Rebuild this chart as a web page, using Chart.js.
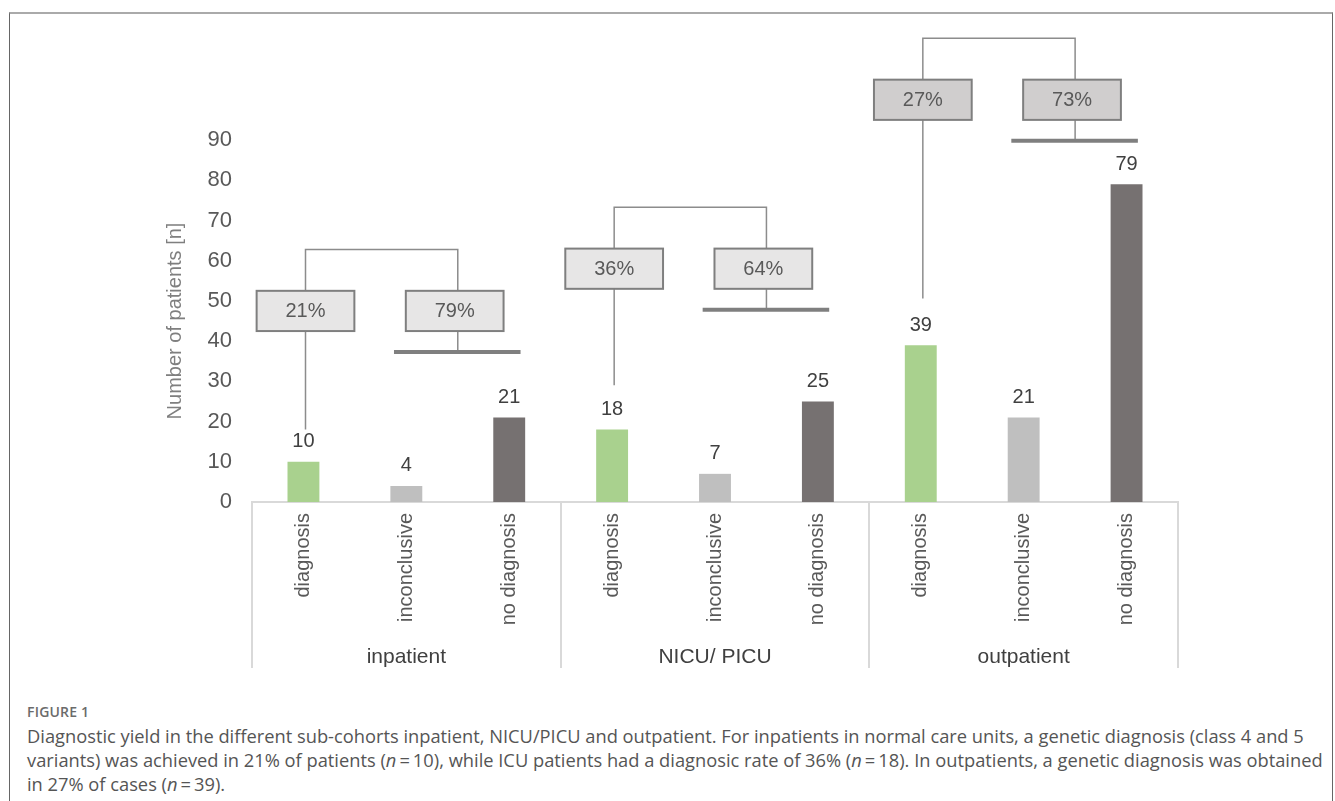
<!DOCTYPE html>
<html>
<head>
<meta charset="utf-8">
<title>Diagnostic yield by sub-cohort</title>
<script src="https://cdn.jsdelivr.net/npm/chart.js@4.4.1/dist/chart.umd.min.js"></script>
<style>
  html, body { margin: 0; padding: 0; background: #fff; }
  body { width: 1335px; height: 801px; position: relative; overflow: hidden; }
  #frame { position: absolute; left: 9px; top: 12px; width: 1322px; height: 800px;
           border-left: 1px solid #666; border-right: 1px solid #666; border-top: 2px solid #aaa; }
  #wrap { position: absolute; left: 0; top: 0; width: 1335px; height: 700px; }
  #caption { position: absolute; left: 27px; top: 700px; width: 1300px; font-family: "Open Sans", sans-serif;
             color: #555; white-space: nowrap; }
  #caption .fig { font-size: 14px; font-weight: 600; color: #6b6b6b; line-height: 24px; letter-spacing: 0.2px; }
  #caption .txt { font-size: 18.3px; line-height: 24px; }
</style>
</head>
<body>
<div id="frame"></div>
<div id="wrap"><canvas id="chart" width="1335" height="700"></canvas></div>
<div id="caption">
  <div class="fig">FIGURE 1</div>
  <div class="txt">Diagnostic yield in the different sub-cohorts inpatient, NICU/PICU and outpatient. For inpatients in normal care units, a genetic diagnosis (class 4 and 5<br>variants) was achieved in 21% of patients (<i>n</i>&#8201;=&#8201;10), while ICU patients had a diagnosic rate of 36% (<i>n</i>&#8201;=&#8201;18). In outpatients, a genetic diagnosis was obtained<br>in 27% of cases (<i>n</i>&#8201;=&#8201;39).</div>
</div>
<script>
// Sub-cohorts and test outcomes
const groups = ['inpatient', 'NICU/ PICU', 'outpatient'];
const outcomes = ['diagnosis', 'inconclusive', 'no diagnosis'];

// Number of patients per outcome, one entry per sub-cohort
const diagnosisCounts = [10, 18, 39];
const inconclusiveCounts = [4, 7, 21];
const noDiagnosisCounts = [21, 25, 79];

// Share of patients with / without a genetic diagnosis (%)
const diagnosedShare = [21, 36, 27];
const undiagnosedShare = [79, 64, 73];

// Y axis ticks
const yTicks = [0, 10, 20, 30, 40, 50, 60, 70, 80, 90];

// Styling
const outcomeColors = ['#a9d18e', '#bfbfbf', '#767171'];
const boxFills = ['#e7e6e6', '#e7e6e6', '#d0cece'];
// Height (in axis units) of the percentage boxes and of the left drop line per cohort
const boxCentres = [47.5, 58, 100];
const dropEnds = [18, 29, 50.6];

const labels = [], values = [], colors = [];
groups.forEach((g, i) => {
  const counts = [diagnosisCounts[i], inconclusiveCounts[i], noDiagnosisCounts[i]];
  counts.forEach((v, j) => {
    labels.push(outcomes[j]);
    values.push(v);
    colors.push(outcomeColors[j]);
  });
});

const FONT = '"Liberation Sans", Arial, sans-serif';
Chart.defaults.font.family = FONT;

const annotate = {
  id: 'annotate',
  afterDatasetsDraw(chart) {
    const { ctx, chartArea: ca, scales: { x, y } } = chart;
    const meta = chart.getDatasetMeta(0);
    const step = x.getPixelForValue(1) - x.getPixelForValue(0);
    const xAt = (g, pos) => x.getPixelForValue(g * 3) + pos * step;
    ctx.save();
    ctx.textAlign = 'center';
    ctx.textBaseline = 'middle';

    // value labels above bars
    ctx.font = '20px ' + FONT;
    ctx.fillStyle = '#404040';
    meta.data.forEach((bar, i) => ctx.fillText(String(values[i]), bar.x, bar.y - 20));

    // percentage brackets
    groups.forEach((g, i) => {
      const c = boxCentres[i];
      const top = y.getPixelForValue(c + 5);
      const bot = y.getPixelForValue(c - 5);
      const link = y.getPixelForValue(c + 15.3);
      const shelf = y.getPixelForValue(c - 10.2);
      const drop = y.getPixelForValue(dropEnds[i]);
      const xl = xAt(i, 0.02);
      const xr = xAt(i, 1.5);

      ctx.strokeStyle = '#8c8c8c';
      ctx.lineWidth = 1.5;
      ctx.beginPath();
      ctx.moveTo(xl, drop);
      ctx.lineTo(xl, link);
      ctx.lineTo(xr, link);
      ctx.lineTo(xr, shelf);
      ctx.stroke();

      ctx.strokeStyle = '#7f7f7f';
      ctx.lineWidth = 4;
      ctx.beginPath();
      ctx.moveTo(xr - 0.62 * step, shelf);
      ctx.lineTo(xr + 0.61 * step, shelf);
      ctx.stroke();

      const w = 0.95 * step;
      [[xl, diagnosedShare[i]], [xAt(i, 1.47), undiagnosedShare[i]]].forEach(([cx, pct]) => {
        ctx.fillStyle = boxFills[i];
        ctx.fillRect(cx - w / 2, top, w, bot - top);
        ctx.lineWidth = 2;
        ctx.strokeStyle = '#7f7f7f';
        ctx.strokeRect(cx - w / 2, top, w, bot - top);
        ctx.fillStyle = '#595959';
        ctx.font = '20px ' + FONT;
        ctx.fillText(pct + '%', cx, (top + bot) / 2 + 1);
      });
    });

    // group separators and cohort names
    ctx.strokeStyle = '#d9d9d9';
    ctx.lineWidth = 2;
    for (let g = 0; g <= groups.length; g++) {
      const sx = Math.round(xAt(g, -0.5));
      ctx.beginPath();
      ctx.moveTo(sx, ca.bottom);
      ctx.lineTo(sx, ca.bottom + 166);
      ctx.stroke();
    }
    ctx.font = '21px ' + FONT;
    ctx.fillStyle = '#404040';
    groups.forEach((g, i) => ctx.fillText(g, xAt(i, 1), ca.bottom + 155));
    ctx.restore();
  }
};

new Chart(document.getElementById('chart'), {
  type: 'bar',
  data: {
    labels: labels,
    datasets: [{
      data: values,
      backgroundColor: colors,
      borderWidth: 0,
      barPercentage: 0.31,
      categoryPercentage: 1.0
    }]
  },
  options: {
    responsive: false,
    animation: false,
    events: [],
    layout: { padding: { top: 140, right: 157, left: 0, bottom: 0 } },
    plugins: { legend: { display: false }, tooltip: { enabled: false } },
    scales: {
      x: {
        grid: { display: false, drawTicks: false },
        border: { display: true, color: '#d9d9d9', width: 2 },
        ticks: {
          autoSkip: false, minRotation: 90, maxRotation: 90, padding: 11,
          color: '#595959', font: { size: 20 }
        },
        afterFit(s) { s.height = 198; }
      },
      y: {
        min: 0, max: 90,
        grid: { display: false, drawTicks: false },
        border: { display: false },
        afterBuildTicks(s) { s.ticks = yTicks.map(v => ({ value: v })); },
        ticks: { padding: 20, color: '#595959', font: { size: 22 } },
        title: {
          display: true, text: 'Number of patients [n]', color: '#7f7f7f',
          font: { size: 20 }, padding: { top: 163, bottom: 0 }
        },
        afterFit(s) { s.width = 252; }
      }
    }
  },
  plugins: [annotate]
});
</script>
</body>
</html>
